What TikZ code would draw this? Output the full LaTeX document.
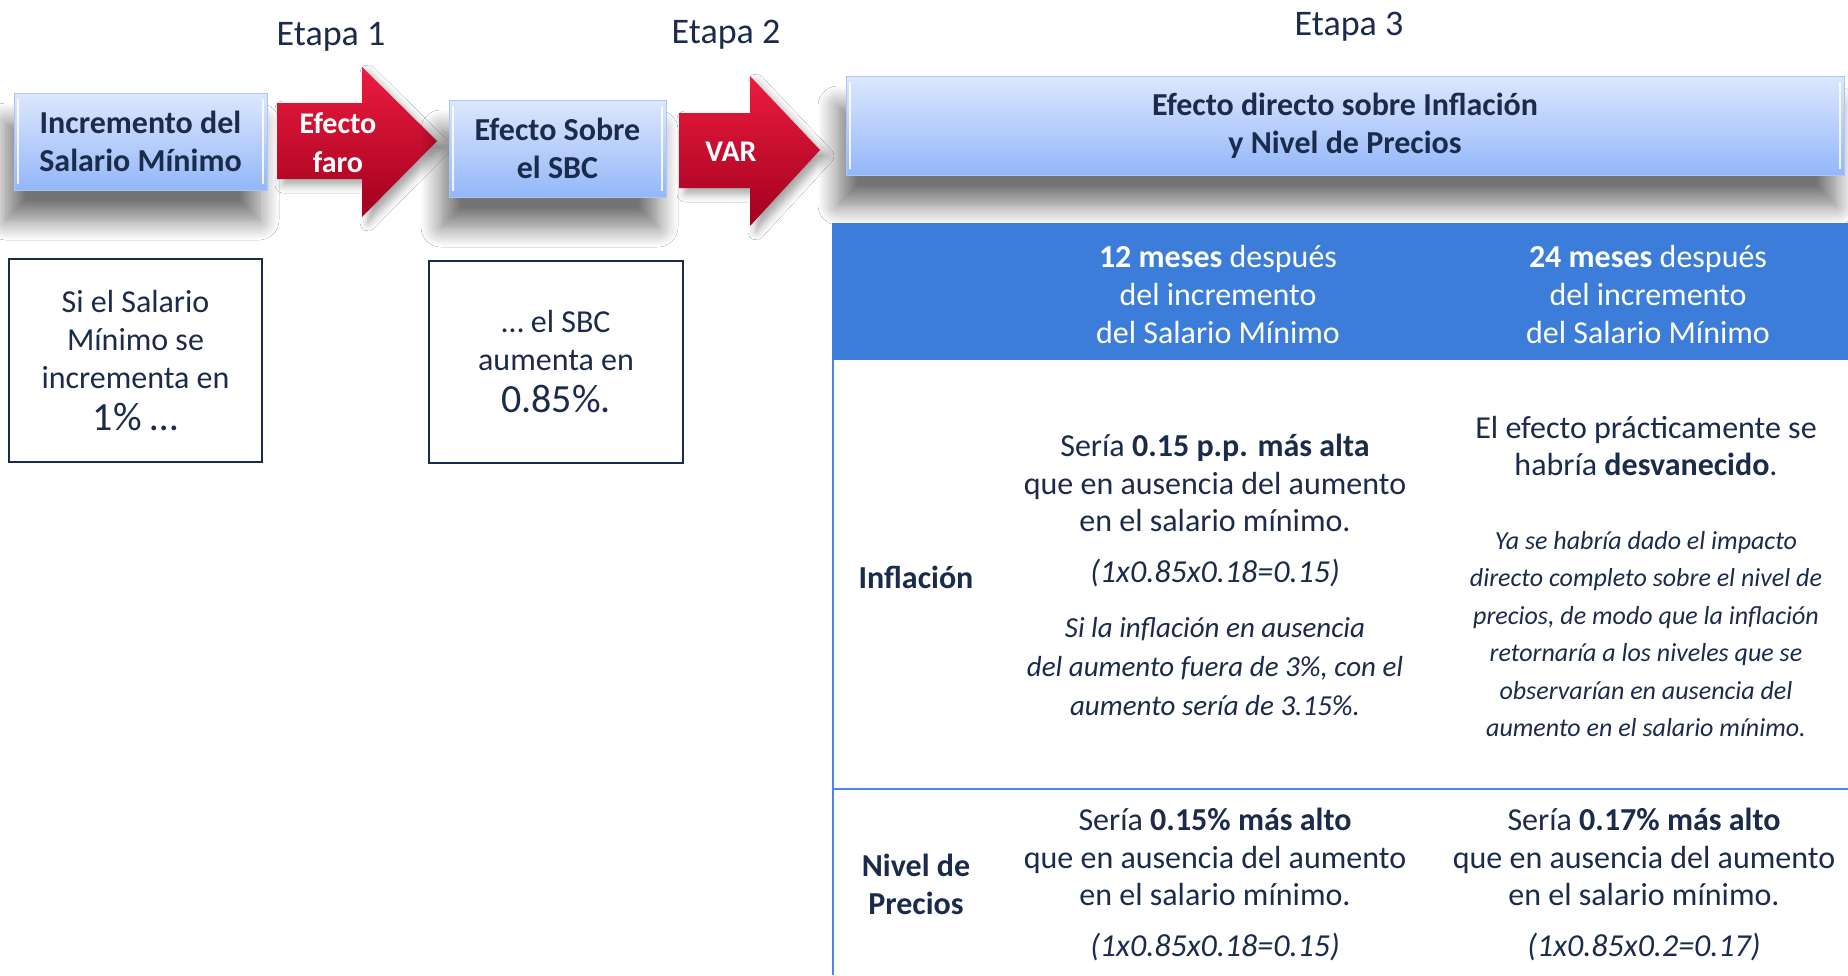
\documentclass[tikz,border=0pt]{standalone}
\usepackage{fontspec}
\setmainfont{Carlito}
\usetikzlibrary{positioning,shadows.blur}

\definecolor{tinta}{HTML}{1B2B4B}
\definecolor{azulClaro}{HTML}{DDE7FD}
\definecolor{azulMedio}{HTML}{93B7F9}
\definecolor{azulBorde}{HTML}{A9C5FA}
\definecolor{azulTabla}{HTML}{3C7DD9}
\definecolor{lineaTabla}{HTML}{4A86E8}
\definecolor{rojoAlto}{HTML}{EC1C3E}
\definecolor{rojoMedio}{HTML}{CC0029}
\definecolor{rojoBajo}{HTML}{A2001F}

\begin{document}
\begin{tikzpicture}[
    x=1pt, y=-1pt,
    font=\fontsize{32}{38}\selectfont,
    text=tinta,
    etapa/.style={
        font=\fontsize{36}{40}\selectfont
    },
    caja/.style={
        rectangle,
        top color=azulClaro,
        bottom color=azulMedio,
        draw=azulBorde,
        line width=1pt,
        inner sep=0pt,
        align=center,
        font=\fontsize{32}{38}\selectfont\bfseries,
        blur shadow={shadow xshift=-8pt, shadow yshift=-30pt,
            shadow blur radius=20pt, shadow opacity=55, shadow blur steps=14},
        path picture={
            \draw[white, line width=2.5pt, opacity=0.85]
                ([xshift=4pt,yshift=-6pt]path picture bounding box.north west) --
                ([xshift=4pt,yshift=6pt]path picture bounding box.south west);
            \draw[white, line width=2.5pt, opacity=0.85]
                ([xshift=-4pt,yshift=-6pt]path picture bounding box.north east) --
                ([xshift=-4pt,yshift=6pt]path picture bounding box.south east);
        }
    },
    nota/.style={
        rectangle,
        draw=tinta,
        line width=2.2pt,
        fill=white,
        inner sep=0pt,
        align=center,
        font=\fontsize{32}{38}\selectfont
    },
    flecha/.style={
        top color=rojoAlto,
        middle color=rojoMedio,
        bottom color=rojoBajo,
        blur shadow={shadow xshift=6pt, shadow yshift=-6pt,
            shadow blur radius=8pt, shadow opacity=35}
    },
    rotulo/.style={
        text=white,
        align=center,
        font=\fontsize{30}{39}\selectfont\bfseries
    },
    cabecera/.style={
        text=white,
        align=center,
        font=\fontsize{32}{38}\selectfont
    },
    fila/.style={
        align=center,
        font=\fontsize{32}{38}\selectfont\bfseries
    },
    celda/.style={
        align=center,
        font=\fontsize{32}{37.5}\selectfont
    },
    formula/.style={
        font=\fontsize{32}{37.5}\selectfont\itshape
    },
    ejemplo/.style={
        align=center,
        font=\fontsize{29}{39}\selectfont\itshape
    },
    detalle/.style={
        align=center,
        font=\fontsize{26}{37.4}\selectfont\itshape
    },
    rejilla/.style={draw=lineaTabla, line width=2.5pt}
]

\path[use as bounding box, fill=white] (0,0) rectangle (1848,975);

% etapas
\node[etapa] (etapa1) at (331,37) {Etapa 1};
\node[etapa] (etapa2) at (726,35) {Etapa 2};
\node[etapa] (etapa3) at (1349,27) {Etapa 3};

% cadena de transmision
\node[caja, minimum width=253, minimum height=97] (salario) at (140.5,141.5) {Incremento del\\Salario Mínimo};
\shade[flecha] (277,103) -- (362,103) -- (362,67) -- (437,141) -- (362,217) -- (362,179) -- (277,179) -- cycle;
\node[rotulo] (faro) at (338,143) {Efecto\\faro};
\node[caja, minimum width=217, minimum height=97] (sbc) at (557.5,148.5) {Efecto Sobre\\el SBC};
\shade[flecha] (679,113) -- (750,113) -- (750,76) -- (820,150) -- (750,226) -- (750,188) -- (679,188) -- cycle;
\node[rotulo] (var) at (731,152) {VAR};
\node[caja, minimum width=998, minimum height=99] (directo) at (1345,125.5) {Efecto directo sobre Inflación\\y Nivel de Precios};

% notas
\node[nota, minimum width=253, minimum height=203] (si) at (135.5,360.5) {Si el Salario\\Mínimo se\\incrementa en\\[4pt]{\fontsize{40}{44}\selectfont 1\% …}};
\node[nota, minimum width=254, minimum height=202] (aumenta) at (556,362) {… el SBC\\aumenta en\\[4pt]{\fontsize{40}{44}\selectfont 0.85\%.}};

% tabla
\fill[azulTabla] (832,223) rectangle (1848,360);
\draw[rejilla] (833,360) -- (833,975);
\draw[rejilla] (833,789) -- (1848,789);

\node[cabecera] (mes12) at (1218,295) {\textbf{12 meses} después\\del incremento\\del Salario Mínimo};
\node[cabecera] (mes24) at (1648,295) {\textbf{24 meses} después\\del incremento\\del Salario Mínimo};

\node[fila] (inflacion) at (916,577) {Inflación};
\node[fila] (nivel) at (916,884) {Nivel de\\Precios};

\node[celda] (inf12) at (1215,483) {Sería \textbf{0.15 p.p. más alta}\\que en ausencia del aumento\\en el salario mínimo.};
\node[formula] (inf12f) at (1215,573) {(1x0.85x0.18=0.15)};
\node[ejemplo] (inf12e) at (1215,667) {Si la inflación en ausencia\\del aumento fuera de 3\%, con el\\aumento sería de 3.15\%.};
\node[celda] (inf24) at (1646,446) {El efecto prácticamente se\\habría \textbf{desvanecido}.};
\node[detalle] (inf24d) at (1646,634) {Ya se habría dado el impacto\\directo completo sobre el nivel de\\precios, de modo que la inflación\\retornaría a los niveles que se\\observarían en ausencia del\\aumento en el salario mínimo.};

\node[celda] (niv12) at (1215,857) {Sería \textbf{0.15\% más alto}\\que en ausencia del aumento\\en el salario mínimo.};
\node[formula] (niv12f) at (1215,947) {(1x0.85x0.18=0.15)};
\node[celda] (niv24) at (1644,857) {Sería \textbf{0.17\% más alto}\\que en ausencia del aumento\\en el salario mínimo.};
\node[formula] (niv24f) at (1644,947) {(1x0.85x0.2=0.17)};

\end{tikzpicture}
\end{document}
